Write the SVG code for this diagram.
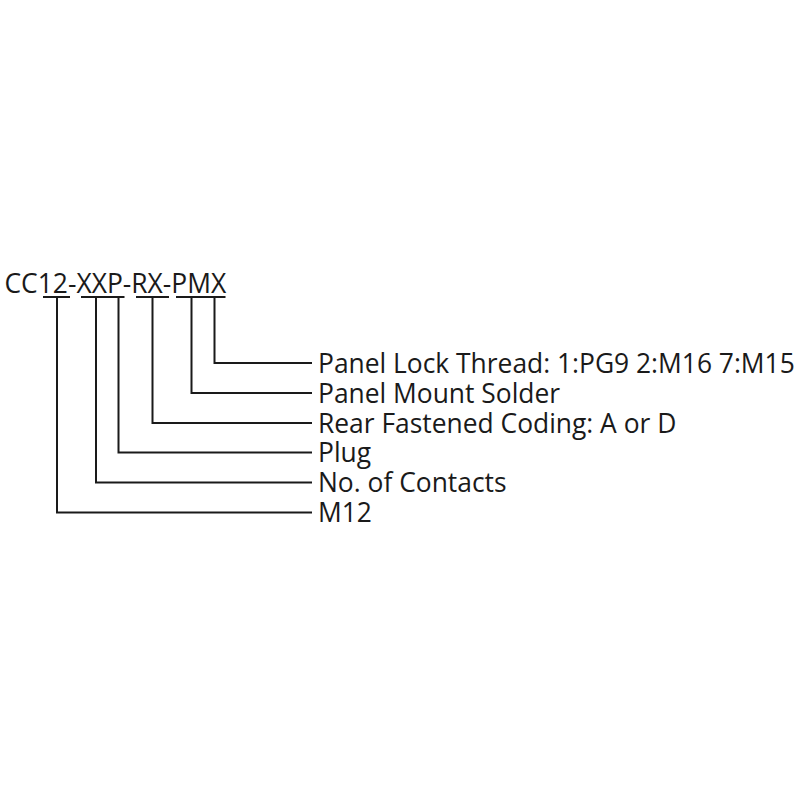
<svg xmlns="http://www.w3.org/2000/svg" width="800" height="800" viewBox="0 0 800 800">
<style>
text{font-family:"Open Sans","Noto Sans","Liberation Sans",sans-serif;fill:#1a1a1a;font-size:26.4px}
.c{fill:none;stroke:#1a1a1a;stroke-width:2}
</style>
<rect width="800" height="800" fill="#fff"/>
<g id="code">
<text x="4.5" y="292.5">CC12-XXP-RX-PMX</text>
</g>
<g id="connectors">
<path class="c" d="M43 297H70M81 297H124.5M136 297H169M176 297H225.5"/>
<path class="c" d="M214.5 297V363H312"/>
<path class="c" d="M191.5 297V393H312"/>
<path class="c" d="M152.5 297V423H312"/>
<path class="c" d="M118.5 297V452.5H312"/>
<path class="c" d="M96 297V482.5H312"/>
<path class="c" d="M57 297V512.5H312"/>
</g>
<g id="label-thread"><text x="318" y="372.5">Panel Lock Thread: 1:PG9 2:M16 7:M15</text></g>
<g id="label-mount"><text x="318" y="402.5">Panel Mount Solder</text></g>
<g id="label-coding"><text x="318" y="432.5">Rear Fastened Coding: A or D</text></g>
<g id="label-plug"><text x="318" y="462">Plug</text></g>
<g id="label-contacts"><text x="318" y="492">No. of Contacts</text></g>
<g id="label-m12"><text x="318" y="522">M12</text></g>
</svg>
